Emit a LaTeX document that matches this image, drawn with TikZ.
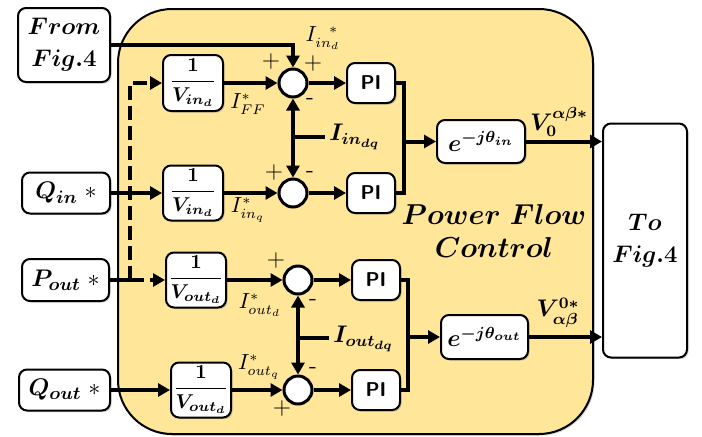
\documentclass[tikz,border=0pt]{standalone}
\usepackage{amsmath}
\usepackage{bm}
\usepackage{tikz}
\usetikzlibrary{arrows.meta, shadows, calc}

\definecolor{pfcyellow}{RGB}{255,230,153}

\tikzset{
  blk/.style={draw, line width=1pt, rounded corners=4pt, fill=white, align=center,
    inner sep=0pt, drop shadow={shadow xshift=0.8pt, shadow yshift=-0.8pt, opacity=0.35}},
  sumc/.style={draw, circle, line width=1.5pt, fill=white, minimum size=14pt, inner sep=0pt},
  sig/.style={line width=2pt, -{Triangle[length=6pt, width=6.5pt]}},
  wire/.style={line width=2pt},
  sgn/.style={font=\sffamily\fontsize{12}{12}\selectfont, inner sep=0pt},
  lbl/.style={font=\fontsize{10.5}{12}\selectfont, inner sep=0pt},
  blbl/.style={font=\boldmath\fontsize{12}{14}\selectfont, inner sep=0pt},
  big/.style={font=\boldmath\fontsize{13}{16}\selectfont},
  inp/.style={font=\fontsize{13}{16}\selectfont},
}

\begin{document}
\begin{tikzpicture}[x=0.5pt, y=-0.5pt]
    \useasboundingbox (0,0) rectangle (702,436);

    % control region
    \draw[line width=1pt, fill=pfcyellow, rounded corners=27pt,
          drop shadow={shadow xshift=0.8pt, shadow yshift=-0.8pt, opacity=0.35}]
        (118,9) rectangle (593,434);

    % inputs and output
    \node[blk, big, minimum width=46pt, minimum height=37pt] (from) at (64,45)
        {$From$\\$Fig.4$};
    \node[blk, inp, minimum width=44pt, minimum height=20.5pt] (qin) at (66,193)
        {$\bm{Q_{in}}\;*$};
    \node[blk, inp, minimum width=43.5pt, minimum height=21pt] (pout) at (65.5,280)
        {$\bm{P_{out}}\;*$};
    \node[blk, inp, minimum width=45.5pt, minimum height=20.5pt] (qout) at (64.5,390)
        {$\bm{Q_{out}}\;*$};
    \node[blk, big, minimum width=42pt, minimum height=117pt] (tofig) at (645,240.5)
        {$To$\\$Fig.4$};

    % gain blocks
    \node[blk, font=\boldmath\fontsize{10}{12}\selectfont, minimum width=30pt, minimum height=28pt]
        (v1) at (193,83) {$\dfrac{1}{V_{in_d}}$};
    \node[blk, font=\boldmath\fontsize{10}{12}\selectfont, minimum width=30pt, minimum height=27.5pt]
        (v2) at (193,193) {$\dfrac{1}{V_{in_d}}$};
    \node[blk, font=\boldmath\fontsize{10}{12}\selectfont, minimum width=30pt, minimum height=27.5pt]
        (v3) at (196,280) {$\dfrac{1}{V_{out_d}}$};
    \node[blk, font=\boldmath\fontsize{10}{12}\selectfont, minimum width=30pt, minimum height=27.5pt]
        (v4) at (201,390) {$\dfrac{1}{V_{out_d}}$};

    % summing junctions
    \node[sumc] (s1) at (293,83) {};
    \node[sumc] (s2) at (293,193) {};
    \node[sumc] (s3) at (298,280) {};
    \node[sumc] (s4) at (298,390) {};

    % PI controllers
    \node[blk, font=\sffamily\bfseries\fontsize{10}{12}\selectfont, minimum width=24pt, minimum height=20pt]
        (pi1) at (371,83) {PI};
    \node[blk, font=\sffamily\bfseries\fontsize{10}{12}\selectfont, minimum width=24pt, minimum height=20pt]
        (pi2) at (371,193) {PI};
    \node[blk, font=\sffamily\bfseries\fontsize{10}{12}\selectfont, minimum width=24pt, minimum height=20pt]
        (pi3) at (376,280) {PI};
    \node[blk, font=\sffamily\bfseries\fontsize{10}{12}\selectfont, minimum width=24pt, minimum height=20pt]
        (pi4) at (376,390) {PI};

    % rotation blocks
    \node[blk, blbl, minimum width=44pt, minimum height=21.5pt] (exp1) at (481,141.5)
        {$e^{-j\theta_{in}}$};
    \node[blk, blbl, minimum width=43.5pt, minimum height=22pt] (exp2) at (484.5,337)
        {$e^{-j\theta_{out}}$};

    \coordinate (split) at (130,280);
    \coordinate (j1) at (404,141.5);
    \coordinate (j2) at (408,337);
    \coordinate (fb1) at (293,137);
    \coordinate (fb2) at (298,338);

    % signal paths
    \draw[sig] (from.east) -| (s1.north);
    \draw[wire] (pout.east) -- (split);
    \draw[sig, dash pattern=on 7pt off 3pt] (split) -- (v3.west);
    \draw[sig, dash pattern=on 7pt off 3pt] (split) |- (v1.west);
    \draw[sig] (qin.east) -- (v2.west);
    \draw[sig] (qout.east) -- (v4.west);

    \foreach \i in {1,2,3,4} {
        \draw[sig] (v\i.east) -- (s\i.west);
        \draw[sig] (s\i.east) -- (pi\i.west);
    }

    \draw[wire] (pi1.east) -| (j1) |- (pi2.east);
    \draw[wire] (pi3.east) -| (j2) |- (pi4.east);
    \draw[sig] (j1) -- (exp1.west);
    \draw[sig] (j2) -- (exp2.west);
    \draw[sig] (exp1.east) -- (exp1.east -| tofig.west);
    \draw[sig] (exp2.east) -- (exp2.east -| tofig.west);

    % current feedback
    \draw[wire, {Triangle[length=6pt, width=6.5pt]}-{Triangle[length=6pt, width=6.5pt]}]
        (s1.south) -- (s2.north);
    \draw[wire, {Triangle[length=6pt, width=6.5pt]}-{Triangle[length=6pt, width=6.5pt]}]
        (s3.south) -- (s4.north);
    \node[blbl, anchor=west] (iin) at (329,137) {$I_{in_{dq}}$};
    \node[blbl, anchor=west] (iout) at (333,339) {$I_{out_{dq}}$};
    \draw[wire] (fb1) -- ([xshift=-2pt]iin.west |- fb1);
    \draw[wire] (fb2) -- ([xshift=-2pt]iout.west |- fb2);

    % signs
    \node[sgn] (p1a) at (271,62) {+};
    \node[sgn] (p1b) at (313,64) {+};
    \node[sgn] (m1) at (310,101) {-};
    \node[sgn] (p2) at (274,173) {+};
    \node[sgn] (m2) at (310,174) {-};
    \node[sgn] (p3) at (276,261) {+};
    \node[sgn] (m3) at (313,302) {-};
    \node[sgn] (m4) at (313,370) {-};
    \node[sgn] (p4) at (282,409) {+};

    % references
    \node[lbl] (iind) at (323,38) {$I_{in_d}^{\hspace{6pt}*}$};
    \node[lbl] (iff) at (248,104) {$I_{FF}^{*}$};
    \node[lbl] (iinq) at (248,210) {$I_{in_q}^{*}$};
    \node[lbl] (ioutd) at (260,305) {$I_{out_d}^{*}$};
    \node[lbl] (ioutq) at (259,367) {$I_{out_q}^{*}$};
    \node[blbl] (v0) at (559,122) {$V_0^{\alpha\beta*}$};
    \node[blbl] (vab) at (558,313) {$V^{0*}_{\mathstrut\alpha\beta}$};

    \node[font=\boldmath\fontsize{14}{16.5}\selectfont, align=center] (pfc) at (494,231)
        {$Power\ Flow$\\$Control$};
\end{tikzpicture}
\end{document}
